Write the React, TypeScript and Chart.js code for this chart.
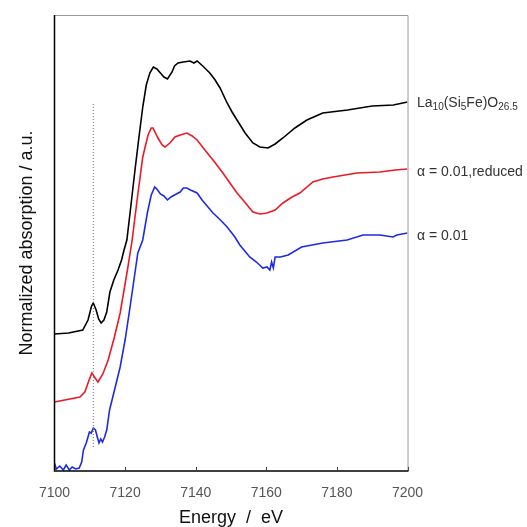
import React, { useEffect, useRef } from "react";
import { Chart, registerables } from "chart.js";

Chart.register(...registerables);

// ---- data ----
const blackE = [7100, 7104, 7108, 7109.5, 7110.5, 7111, 7111.8, 7112.5, 7113.2, 7114, 7114.8, 7115.7, 7116.8, 7118, 7119, 7119.7, 7120.5, 7121.5, 7122.8, 7124, 7125, 7126, 7127, 7128, 7129, 7130, 7131, 7132, 7133.3, 7134, 7135, 7136.5, 7138.4, 7139.5, 7140.4, 7142, 7144, 7145.5, 7146.9, 7148.9, 7150.3, 7151.7, 7154, 7156.2, 7158.2, 7160.5, 7162.5, 7164.7, 7168.1, 7171.5, 7176, 7183, 7190, 7196, 7200];
const blackV = [1.37, 1.38, 1.41, 1.51, 1.65, 1.68, 1.61, 1.52, 1.48, 1.51, 1.59, 1.79, 1.91, 2.01, 2.11, 2.21, 2.31, 2.61, 3.01, 3.36, 3.64, 3.86, 3.98, 4.04, 4.02, 3.98, 3.94, 3.92, 3.99, 4.05, 4.08, 4.09, 4.10, 4.08, 4.10, 4.05, 3.98, 3.91, 3.83, 3.68, 3.59, 3.51, 3.38, 3.28, 3.24, 3.23, 3.27, 3.33, 3.43, 3.51, 3.58, 3.61, 3.65, 3.66, 3.69];

const redE = [7100, 7107.2, 7108.6, 7109.8, 7110.6, 7111.5, 7112.3, 7113.7, 7115.2, 7116.9, 7118.6, 7119.7, 7120.8, 7122, 7123.4, 7125, 7126.5, 7127.4, 7127.9, 7129.3, 7130.5, 7131.3, 7132.7, 7134.1, 7135.6, 7137.5, 7139, 7140.4, 7142.6, 7144.9, 7147.5, 7149.7, 7151.7, 7153.4, 7156.2, 7158.2, 7160.2, 7162.5, 7164.7, 7167.3, 7169.5, 7173.2, 7176, 7178.9, 7185.7, 7192.2, 7196.5, 7200];
const redV = [0.69, 0.74, 0.79, 0.91, 0.98, 0.93, 0.89, 0.97, 1.11, 1.33, 1.58, 1.81, 2.04, 2.31, 2.71, 3.14, 3.36, 3.43, 3.43, 3.33, 3.26, 3.24, 3.28, 3.34, 3.36, 3.38, 3.35, 3.31, 3.21, 3.11, 2.99, 2.88, 2.78, 2.71, 2.59, 2.57, 2.58, 2.61, 2.68, 2.74, 2.78, 2.89, 2.92, 2.94, 2.98, 2.99, 3.01, 3.02];

const blueE = [7100, 7100.5, 7101.5, 7102.5, 7103.3, 7104.2, 7105, 7106, 7107, 7107.7, 7108.2, 7109, 7109.9, 7110.4, 7111, 7111.6, 7112.2, 7112.6, 7113.1, 7113.6, 7114.2, 7114.8, 7115.6, 7117, 7118.6, 7120, 7121.4, 7122.3, 7123.6, 7125, 7126.3, 7127.4, 7128.4, 7129.2, 7130, 7131, 7132, 7133, 7134.5, 7135.6, 7136.5, 7137.5, 7138.5, 7140.4, 7141.8, 7144.9, 7147, 7148.9, 7151.1, 7152.5, 7155.3, 7157.2, 7158.1, 7159, 7160.2, 7161, 7161.5, 7162, 7162.5, 7164, 7166.2, 7170, 7176, 7182.9, 7187.4, 7192.2, 7195.9, 7197, 7200];
const blueV = [0.08, 0.02, 0.05, 0.01, 0.06, 0.01, 0.04, 0.02, 0.03, 0.09, 0.21, 0.28, 0.39, 0.38, 0.43, 0.41, 0.33, 0.28, 0.32, 0.29, 0.34, 0.41, 0.61, 0.81, 1.04, 1.31, 1.64, 1.86, 2.18, 2.31, 2.58, 2.76, 2.84, 2.81, 2.77, 2.75, 2.71, 2.74, 2.77, 2.79, 2.83, 2.83, 2.81, 2.78, 2.71, 2.58, 2.51, 2.44, 2.34, 2.26, 2.14, 2.09, 2.06, 2.03, 2.04, 2.01, 2.09, 2.03, 2.14, 2.14, 2.16, 2.24, 2.28, 2.31, 2.36, 2.36, 2.34, 2.36, 2.38];

const preEdgeE = [7111, 7111];
const preEdgeV = [0.24, 3.68];

const xTicks = [7100, 7120, 7140, 7160, 7180, 7200];
const xMin = 7100;
const xMax = 7200;
const yMin = 0;
const yMax = 4.56;

const FONT = "'Liberation Sans', Arial, sans-serif";

const toPts = (xs: number[], ys: number[]) => xs.map((x, i) => ({ x, y: ys[i] }));

const overlay = {
  id: "overlay",
  afterDraw(chart: any) {
    const { ctx, chartArea: a, scales } = chart;
    const xs = scales.x;
    const ys = scales.y;
    ctx.save();
    // frame: top/right gray
    ctx.strokeStyle = "#9a9a9a";
    ctx.lineWidth = 1;
    ctx.beginPath();
    ctx.moveTo(a.left, a.top + 0.5);
    ctx.lineTo(a.right + 0.5, a.top + 0.5);
    ctx.lineTo(a.right + 0.5, a.bottom);
    ctx.stroke();
    // left/bottom black
    ctx.strokeStyle = "#000";
    ctx.lineWidth = 1.5;
    ctx.beginPath();
    ctx.moveTo(a.left, a.top);
    ctx.lineTo(a.left, a.bottom);
    ctx.lineTo(a.right + 1, a.bottom);
    ctx.stroke();
    // inward tick marks
    ctx.strokeStyle = "#444";
    ctx.lineWidth = 1;
    xTicks.forEach((t) => {
      const px = Math.round(xs.getPixelForValue(t)) + 0.5;
      ctx.beginPath();
      ctx.moveTo(px, a.bottom);
      ctx.lineTo(px, a.bottom - 4);
      ctx.stroke();
    });
    // axis titles
    ctx.fillStyle = "#111";
    ctx.font = `18px ${FONT}`;
    ctx.textAlign = "center";
    ctx.textBaseline = "middle";
    ctx.fillText("Energy  /  eV", (a.left + a.right) / 2, 518);
    ctx.save();
    ctx.translate(27, 243);
    ctx.rotate(-Math.PI / 2);
    ctx.fillText("Normalized absorption / a.u.", 0, 0);
    ctx.restore();

    // series labels
    ctx.fillStyle = "#333";
    ctx.textAlign = "left";
    ctx.textBaseline = "middle";
    const lx = 417;
    const drawParts = (parts: [string, boolean][], y: number) => {
      let x = lx;
      parts.forEach(([txt, sub]) => {
        ctx.font = sub ? `10px ${FONT}` : `14px ${FONT}`;
        ctx.fillText(txt, x, sub ? y + 4 : y);
        x += ctx.measureText(txt).width;
      });
    };
    const yb = ys.getPixelForValue(blackV[blackV.length - 1]) + 1;
    const yr = ys.getPixelForValue(redV[redV.length - 1]) + 3;
    const yB = ys.getPixelForValue(blueV[blueV.length - 1]) + 3;
    drawParts(
      [["La", false], ["10", true], ["(Si", false], ["5", true], ["Fe)O", false], ["26.5", true]],
      yb
    );
    drawParts([["α = 0.01,reduced", false]], yr);
    drawParts([["α = 0.01", false]], yB);
    ctx.restore();
  },
};

export default function App() {
  const ref = useRef<HTMLCanvasElement | null>(null);
  useEffect(() => {
    if (!ref.current) return;
    Chart.defaults.font.family = FONT;
    const chart = new Chart(ref.current, {
      type: "line",
      data: {
        datasets: [
          {
            data: toPts(preEdgeE, preEdgeV),
            borderColor: "#777",
            borderWidth: 1,
            borderDash: [1, 2],
            pointRadius: 0,
          },
          {
            data: toPts(blueE, blueV),
            borderColor: "#1e2be3",
            borderWidth: 1.6,
            pointRadius: 0,
          },
          {
            data: toPts(redE, redV),
            borderColor: "#ea1a26",
            borderWidth: 1.6,
            pointRadius: 0,
          },
          {
            data: toPts(blackE, blackV),
            borderColor: "#000",
            borderWidth: 1.6,
            pointRadius: 0,
          },
        ],
      },
      options: {
        animation: false,
        responsive: false,
        devicePixelRatio: 1,
        layout: { padding: { left: 54.5, right: 119.5, top: 15, bottom: 0 } },
        plugins: { legend: { display: false }, tooltip: { enabled: false } },
        elements: { line: { tension: 0 } },
        scales: {
          x: {
            type: "linear",
            min: xMin,
            max: xMax,
            afterBuildTicks: (s: any) => {
              s.ticks = xTicks.map((v) => ({ value: v }));
            },
            afterFit: (s: any) => {
              s.height = 56;
            },
            grid: { display: false, drawTicks: false },
            border: { display: false },
            ticks: {
              color: "#555",
              font: { size: 14, family: FONT },
              padding: 14,
              maxRotation: 0,
              autoSkip: false,
              callback: (v: any) => String(v),
            },
          },
          y: {
            type: "linear",
            display: false,
            min: yMin,
            max: yMax,
          },
        },
      },
      plugins: [overlay],
    });
    return () => chart.destroy();
  }, []);
  return (
    <div style={{ position: "absolute", left: 0, top: 0, width: 527, height: 527, background: "#fff" }}>
      <canvas ref={ref} width={527} height={527} />
    </div>
  );
}
